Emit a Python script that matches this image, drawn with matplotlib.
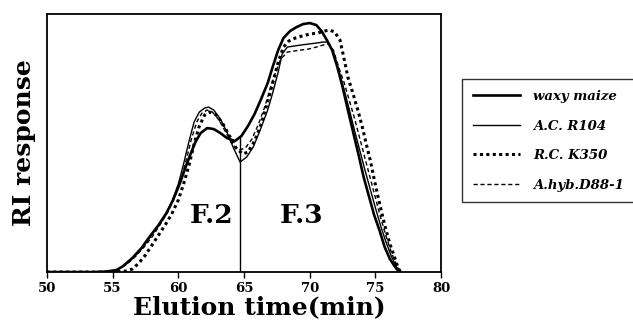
import numpy as np
import matplotlib.pyplot as plt

# elution time (min) / RI response (arbitrary units)
waxy_t = [50, 53.5, 54.5, 55.3, 55.8, 56.5, 57.2, 57.8, 58.5, 59.1, 59.6, 60.1, 60.5, 60.9, 61.3,
          61.7, 62.2, 62.7, 63.2, 63.7, 64.3, 64.8, 65.3, 65.8, 66.3, 66.8, 67.2, 67.6,
          68.0, 68.5, 69.0, 69.5, 70.0, 70.5, 70.9, 71.3, 71.7, 72.1, 72.5, 72.9, 73.3,
          73.7, 74.1, 74.5, 74.9, 75.3, 75.7, 76.1, 76.5, 76.8]
waxy_v = [0, 0, 0.5, 2, 6, 14, 24, 35, 47, 59, 72, 88, 103, 117, 130,
          139, 144, 143, 139, 134, 131, 136, 146, 158, 173, 189, 206, 222,
          234, 241, 245, 248, 249, 247, 241, 232, 222, 205, 185, 162, 140,
          118, 95, 76, 57, 42, 25, 13, 5, 0]

acr_t = [50, 54, 55, 55.6, 56.3, 57.0, 57.7, 58.4, 59.0, 59.5, 60.0, 60.4, 60.8, 61.2, 61.6,
         62.0, 62.3, 62.7, 63.2, 63.7, 64.2, 64.7, 65.2, 65.7, 66.2, 66.8, 67.2, 67.6,
         67.9, 68.3, 68.8, 69.3, 69.9, 70.5, 71.0, 71.4, 71.8, 72.2, 72.6, 73.0, 73.4,
         73.8, 74.2, 74.6, 75.0, 75.4, 75.8, 76.2, 76.6, 76.9]
acr_v = [0, 0, 1, 4, 11, 20, 32, 45, 57, 70, 88, 108, 130, 150, 160,
         164, 165, 162, 153, 140, 124, 110, 115, 125, 141, 162, 180, 200,
         218, 225, 226, 227, 228, 229, 230, 230, 220, 202, 183, 163, 142,
         122, 102, 83, 64, 46, 30, 16, 5, 0]

rck_t = [50, 55, 56, 56.5, 57.0, 57.5, 58.0, 58.5, 59.0, 59.5, 60.0, 60.4, 60.8, 61.2, 61.6,
         62.0, 62.4, 62.9, 63.4, 63.9, 64.4, 64.9, 65.3, 65.8, 66.3, 66.8, 67.2, 67.6,
         68.0, 68.4, 68.9, 69.4, 70.0, 70.6, 71.1, 71.5, 71.9, 72.3, 72.6, 72.9, 73.3,
         73.7, 74.0, 74.3, 74.6, 74.9, 75.2, 75.5, 75.8, 76.1, 76.4, 76.7, 76.9]
rck_v = [0, 0, 1, 3, 9, 17, 27, 37, 47, 58, 72, 88, 106, 128, 146,
         157, 160, 157, 148, 136, 124, 118, 120, 131, 148, 170, 190, 210,
         225, 231, 234, 236, 238, 239, 241, 242, 240, 232, 214, 195, 178,
         160, 145, 128, 112, 93, 75, 58, 42, 28, 17, 5, 0]

hyb_t = [50, 54.5, 55.3, 56.0, 56.7, 57.4, 58.0, 58.6, 59.2, 59.7, 60.2, 60.6, 61.0, 61.4, 61.8,
         62.2, 62.6, 63.1, 63.6, 64.1, 64.6, 65.1, 65.6, 66.1, 66.6, 67.0, 67.4, 67.8,
         68.3, 68.8, 69.3, 69.9, 70.5, 71.0, 71.4, 71.8, 72.2, 72.6, 73.0, 73.4, 73.8,
         74.2, 74.6, 75.0, 75.4, 75.8, 76.2, 76.6, 76.9]
hyb_v = [0, 0, 2, 7, 15, 25, 35, 47, 60, 74, 92, 112, 133, 150, 159,
         162, 160, 152, 140, 128, 122, 124, 133, 148, 166, 184, 200, 213,
         220, 221, 222, 223, 225, 227, 228, 222, 205, 190, 172, 154, 134,
         114, 94, 74, 54, 36, 20, 7, 0]

cut_t = 64.7
cut_v = 135

plt.rcParams['font.family'] = 'DejaVu Serif'
plt.rcParams['font.weight'] = 'bold'

fig = plt.figure(figsize=(6.33, 3.27), dpi=100)
ax = fig.add_axes([0.074, 0.168, 0.623, 0.789])

l1, = ax.plot(waxy_t, waxy_v, color='black', lw=1.9, label='waxy maize')
l2, = ax.plot(acr_t, acr_v, color='black', lw=1.0, label='A.C. R104')
l3, = ax.plot(rck_t, rck_v, color='black', lw=2.2, linestyle=(0, (1, 1.1)), label='R.C. K350')
l4, = ax.plot(hyb_t, hyb_v, color='black', lw=1.0, linestyle=(0, (3, 2)), label='A.hyb.D88-1')

ax.plot([cut_t, cut_t], [0, cut_v], color='black', lw=1.0)

ax.text(62.5, 57, 'F.2', fontsize=19, fontweight='bold', ha='center', va='center')
ax.text(69.4, 57, 'F.3', fontsize=19, fontweight='bold', ha='center', va='center')

ax.set_xlim(50, 80)
ax.set_ylim(0, 258)
ax.set_xticks([50, 55, 60, 65, 70, 75, 80])
ax.set_yticks([])
ax.tick_params(axis='x', direction='out', length=4, width=1, labelsize=9.5, pad=3)
for s in ax.spines.values():
    s.set_linewidth(1.3)

ax.set_xlabel('Elution time(min)', fontsize=18, fontweight='bold', labelpad=0)
ax.xaxis.set_label_coords(0.54, -0.09)
ax.set_ylabel('RI response', fontsize=18, fontweight='bold', labelpad=8)

leg = fig.legend(handles=[l1, l2, l3, l4], loc='lower left',
                 bbox_to_anchor=(0.730, 0.382, 0.285, 0.364), mode='expand',
                 prop={'size': 9.5, 'weight': 'bold', 'style': 'italic'},
                 handlelength=3.6, handletextpad=1.0, labelspacing=1.25,
                 borderpad=0.8, borderaxespad=0.0, fancybox=False, frameon=True)
leg.get_frame().set_edgecolor('black')
leg.get_frame().set_linewidth(1.0)

fig.savefig('out.png', dpi=100)
